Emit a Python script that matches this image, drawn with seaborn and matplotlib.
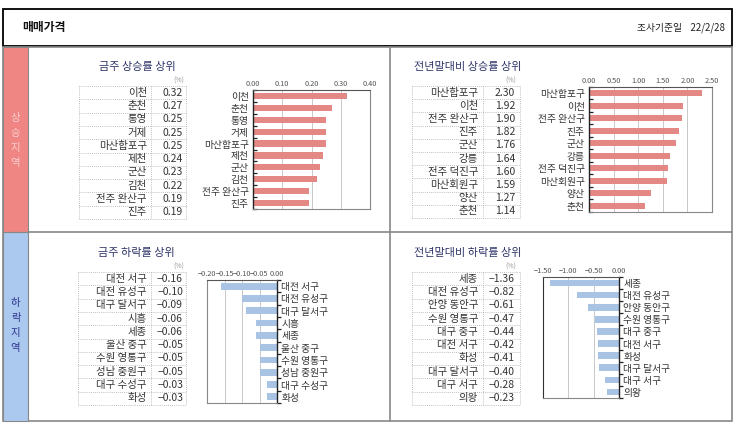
import numpy as np
import matplotlib
matplotlib.use("Agg")
import matplotlib.pyplot as plt
import seaborn as sns
from matplotlib.patches import Rectangle

sns.set_theme(style="white")
FONTS = ['Noto Sans CJK KR', 'DejaVu Sans']
plt.rcParams['font.family'] = FONTS
plt.rcParams['axes.unicode_minus'] = True

# ---------------- data ----------------
week_up_labels = ["이천", "춘천", "통영", "거제", "마산합포구", "제천", "군산", "김천", "전주 완산구", "진주"]
week_up_values = [0.32, 0.27, 0.25, 0.25, 0.25, 0.24, 0.23, 0.22, 0.19, 0.19]
week_up_ticks = [0.00, 0.10, 0.20, 0.30, 0.40]

ytd_up_labels = ["마산합포구", "이천", "전주 완산구", "진주", "군산", "강릉", "전주 덕진구", "마산회원구", "양산", "춘천"]
ytd_up_values = [2.30, 1.92, 1.90, 1.82, 1.76, 1.64, 1.60, 1.59, 1.27, 1.14]
ytd_up_ticks = [0.00, 0.50, 1.00, 1.50, 2.00, 2.50]

week_down_labels = ["대전 서구", "대전 유성구", "대구 달서구", "시흥", "세종", "울산 중구", "수원 영통구", "성남 중원구", "대구 수성구", "화성"]
week_down_values = [-0.16, -0.10, -0.09, -0.06, -0.06, -0.05, -0.05, -0.05, -0.03, -0.03]
week_down_ticks = [-0.20, -0.15, -0.10, -0.05, 0.00]

ytd_down_labels = ["세종", "대전 유성구", "안양 동안구", "수원 영통구", "대구 중구", "대전 서구", "화성", "대구 달서구", "대구 서구", "의왕"]
ytd_down_values = [-1.36, -0.82, -0.61, -0.47, -0.44, -0.42, -0.41, -0.40, -0.28, -0.23]
ytd_down_ticks = [-1.50, -1.00, -0.50, 0.00]

titles = ["금주 상승률 상위", "전년말대비 상승률 상위", "금주 하락률 상위", "전년말대비 하락률 상위"]
header_title = "매매가격"
header_date = "조사기준일    22/2/28"
strip_up = "상승지역"
strip_down = "하락지역"

# ---------------- figure ----------------
W, H = 743, 428
fig = plt.figure(figsize=(W / 100, H / 100), dpi=100)
fig.patch.set_facecolor("white")

bg = fig.add_axes([0, 0, 1, 1])
bg.set_xlim(0, W)
bg.set_ylim(H, 0)
bg.axis("off")
bg.set_zorder(0)

RED_BAR = "#E38884"
BLUE_BAR = "#A9C3E4"
RED_STRIP = "#EF8683"
BLUE_STRIP = "#ABC8EE"
NAVY = "#2F3568"
TXT = "#333333"

# header box
bg.add_patch(Rectangle((3, 9), 729, 37, fill=False, ec="black", lw=1.3))
bg.text(22, 27.5, header_title, fontsize=8.5, fontweight="bold", color="#111", va="center", ha="left")
bg.text(725, 27.5, header_date, fontsize=7, color="#222", va="center", ha="right")

# main frame
bg.add_patch(Rectangle((3, 47), 729, 374, fill=False, ec="#888888", lw=1.2))
bg.add_patch(Rectangle((3, 47), 25, 185, fc=RED_STRIP, ec="#888888", lw=0.8))
bg.add_patch(Rectangle((3, 232), 25, 189, fc=BLUE_STRIP, ec="#888888", lw=0.8))
bg.plot([28, 732], [232, 232], color="#888888", lw=1.2)
bg.plot([390, 390], [47, 421], color="#888888", lw=1.2)

for i, ch in enumerate(strip_up):
    bg.text(15.5, 118 + i * 15, ch, fontsize=7.5, color="#F8CFCF", ha="center", va="center")
for i, ch in enumerate(strip_down):
    bg.text(15.5, 303 + i * 15, ch, fontsize=7.5, color="#2E3490", ha="center", va="center")


def fmt(v):
    return f"{v:.2f}".replace("-", "\u2212")


def draw_table(labels, values, xl, xm, xr, y0, y1, lab_r, val_r, title, tx, ty):
    n = len(labels)
    h = (y1 - y0) / n
    for k in range(n + 1):
        y = y0 + k * h
        bg.plot([xl, xr], [y, y], color="#AAAAAA", lw=0.6, ls=(0, (1, 1.5)))
    for x in (xl, xm, xr):
        bg.plot([x, x], [y0, y1], color="#AAAAAA", lw=0.6, ls=(0, (1, 1.5)))
    for k, (lab, v) in enumerate(zip(labels, values)):
        yc = y0 + (k + 0.5) * h
        bg.text(lab_r, yc, lab, fontsize=7.5, color=TXT, ha="right", va="center")
        bg.text(val_r, yc, fmt(v), fontsize=7.5, color=TXT, ha="right", va="center")
    bg.text(val_r - 4, y0 - 5, "(%)", fontsize=5, color="#999999", ha="center", va="center")
    bg.text(tx, ty, title, fontsize=8, color=NAVY, ha="left", va="center")


draw_table(week_up_labels, week_up_values, 79, 151, 186, 86, 219, 147, 183, titles[0], 99, 67)
draw_table(ytd_up_labels, ytd_up_values, 412, 483, 520, 86, 218, 478, 515, titles[1], 414, 67)
draw_table(week_down_labels, week_down_values, 78, 151, 186, 272, 405, 147, 183, titles[2], 98, 253)
draw_table(ytd_down_labels, ytd_down_values, 412, 483, 520, 272, 405, 478, 515, titles[3], 414, 253)


def add_ax(l, t, r, b):
    ax = fig.add_axes([l / W, 1 - b / H, (r - l) / W, (b - t) / H])
    ax.set_zorder(1)
    return ax


def bar_panel(ax, labels, values, ticks, color, right_labels, bw, tick_dir):
    sns.barplot(x=values, y=labels, orient="h", color=color, width=bw,
                ax=ax, saturation=1, edgecolor="none")
    ax.set_xlim(min(ticks), max(ticks))
    ax.set_xticks(ticks)
    ax.set_xticklabels([fmt(t) for t in ticks])
    ax.xaxis.tick_top()
    ax.tick_params(axis="x", length=0, labelsize=5.3, colors="#555555", pad=1.5)
    ax.xaxis.grid(True, color="#C8C8C8", lw=0.7)
    ax.yaxis.grid(False)
    ax.set_axisbelow(True)
    ax.set_xlabel("")
    ax.set_ylabel("")
    ax.set_yticks(np.arange(-0.5, len(labels), 1), minor=True)
    if right_labels:
        ax.yaxis.tick_right()
        ax.yaxis.set_label_position("right")
    ax.tick_params(axis="y", which="major", length=0, labelsize=7, colors=TXT, pad=3)
    ax.tick_params(axis="y", which="minor", length=3, width=0.9, color="#222222",
                   direction=tick_dir, left=not right_labels, right=right_labels)
    for s in ax.spines.values():
        s.set_visible(True)
        s.set_color("#888888")
        s.set_linewidth(0.8)
    key = "right" if right_labels else "left"
    ax.spines[key].set_color("#222222")
    ax.spines[key].set_linewidth(1.0)
    ax.spines["top"].set_color("#555555")
    ax.set_facecolor("white")


ax1 = add_ax(253, 90, 370, 209)
bar_panel(ax1, week_up_labels, week_up_values, week_up_ticks, RED_BAR, False, 0.52, "in")
ax2 = add_ax(589, 87, 712, 212)
bar_panel(ax2, ytd_up_labels, ytd_up_values, ytd_up_ticks, RED_BAR, False, 0.5, "in")
ax3 = add_ax(207, 280, 277, 403)
bar_panel(ax3, week_down_labels, week_down_values, week_down_ticks, BLUE_BAR, True, 0.55, "out")
ax4 = add_ax(543, 277, 619, 398)
bar_panel(ax4, ytd_down_labels, ytd_down_values, ytd_down_ticks, BLUE_BAR, True, 0.55, "out")
ax4.spines["left"].set_color("#333333")

fig.savefig("out.png", dpi=100, facecolor="white")
